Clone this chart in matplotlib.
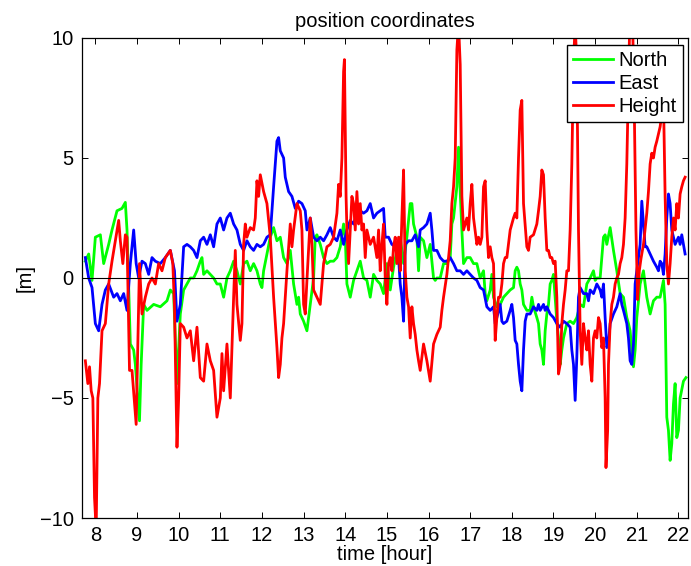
import matplotlib
matplotlib.use("Agg")
import matplotlib.pyplot as plt

plt.rcParams['font.family'] = ['Liberation Sans', 'DejaVu Sans']

title = "position coordinates"
xlabel = "time [hour]"
ylabel = "[m]"
series_names = ["North", "East", "Height"]
xticks = list(range(8, 23))
yticks = [-10, -5, 0, 5, 10]

north_t = [7.76, 7.84, 7.92, 8.00, 8.12, 8.20, 8.32, 8.40, 8.52, 8.64, 8.72, 8.76, 8.84, 8.92, 8.96, 9.06, 9.10, 9.16, 9.24, 9.40,
           9.56, 9.72, 9.80, 9.88, 9.96, 10.04, 10.12, 10.20, 10.28, 10.36, 10.44, 10.52, 10.56, 10.60, 10.68, 10.76, 10.84, 10.92, 11.00, 11.08,
           11.16, 11.24, 11.32, 11.40, 11.48, 11.56, 11.64, 11.72, 11.80, 11.88, 11.96, 12.00, 12.04, 12.12, 12.20, 12.28, 12.36, 12.44, 12.52, 12.60,
           12.68, 12.76, 12.84, 12.88, 12.92, 13.00, 13.08, 13.16, 13.24, 13.28, 13.32, 13.40, 13.48, 13.56, 13.64, 13.72, 13.80, 13.88, 13.96, 14.00,
           14.04, 14.12, 14.20, 14.28, 14.36, 14.44, 14.52, 14.60, 14.68, 14.76, 14.84, 14.92, 15.00, 15.08, 15.16, 15.24, 15.32, 15.40, 15.48, 15.56,
           15.60, 15.64, 15.72, 15.76, 15.80, 15.88, 15.96, 16.04, 16.12, 16.16, 16.20, 16.28, 16.36, 16.44, 16.52, 16.56, 16.60, 16.68, 16.72, 16.76,
           16.80, 16.84, 16.92, 17.00, 17.08, 17.16, 17.24, 17.32, 17.36, 17.40, 17.48, 17.52, 17.56, 17.64, 17.72, 17.80, 17.88, 17.96, 18.04, 18.08,
           18.12, 18.16, 18.20, 18.24, 18.28, 18.36, 18.44, 18.48, 18.52, 18.60, 18.64, 18.68, 18.72, 18.76, 18.80, 18.84, 18.88, 18.92, 18.96, 19.00,
           19.04, 19.08, 19.12, 19.16, 19.20, 19.24, 19.32, 19.40, 19.48, 19.56, 19.64, 19.72, 19.80, 19.88, 19.96, 20.00, 20.04, 20.12, 20.20, 20.24,
           20.28, 20.36, 20.44, 20.52, 20.60, 20.68, 20.76, 20.80, 20.84, 20.88, 20.92, 20.96, 21.00, 21.08, 21.16, 21.24, 21.32, 21.40, 21.48, 21.56,
           21.64, 21.68, 21.72, 21.76, 21.80, 21.84, 21.88, 21.92, 21.96, 22.00, 22.04, 22.12, 22.18]
north_m = [0.7, 1.0, -0.1, 1.7, 1.8, 0.6, 1.4, 2.0, 2.8, 2.9, 3.15, 2.0, -2.75, -3.0, -3.6, -5.95, -3.6, -1.1, -1.35, -1.1,
           -1.2, -0.95, -0.5, -0.65, -4.4, -1.5, -0.5, -0.25, 0.0, 0.0, 0.3, 0.7, 0.85, 0.15, 0.3, 0.15, 0.0, -0.25, -0.25, -0.8,
           0.0, 0.3, 0.7, 0.3, -0.25, 0.6, 0.7, 0.3, 0.6, 0.3, -0.25, -0.4, 0.3, 1.0, 1.7, 2.1, 1.55, 1.7, 0.85, 0.6,
           1.15, -0.25, -1.1, -0.8, -1.5, -1.8, -2.2, -1.1, 0.0, 1.7, 1.8, 1.4, 0.85, 0.6, 0.7, 0.7, 0.85, 1.3, 2.25, 1.7,
           -0.25, -0.8, -0.1, 0.3, 0.7, 0.0, -0.1, -0.8, 0.15, -0.1, -0.25, -0.65, 0.6, -0.5, 0.45, 1.15, 1.7, 0.6, 1.7, 3.1,
           3.1, 2.25, 1.7, 0.3, 1.7, 1.55, 0.85, 1.4, 0.0, -0.1, 0.0, 0.0, 0.6, 0.6, 0.85, 2.25, 2.5, 3.8, 5.45, 3.6,
           2.0, 0.6, 0.85, 0.85, 0.6, 0.6, 0.0, 0.3, -0.65, -0.95, -0.5, 0.15, -0.8, -1.2, -1.1, -0.8, -0.65, -0.5, -0.4, 0.3,
           0.45, 0.3, -0.25, -0.5, -1.1, -1.35, -1.35, -0.8, -1.2, -1.65, -1.9, -2.75, -3.0, -3.6, -2.2, -1.5, -1.1, -0.25, -0.1, 0.15,
           -0.8, -1.8, -2.5, -3.6, -3.0, -2.5, -1.9, -1.8, -1.9, -1.65, -1.1, -1.2, -0.25, 0.0, 0.3, -0.1, 0.0, 0.0, 1.7, 1.8,
           1.4, 2.1, 1.15, 0.3, -0.65, -0.8, -1.65, -1.9, -2.2, -3.0, -3.7, -3.0, -1.65, -0.25, 0.3, -0.8, -1.5, -0.95, -0.8, -0.8,
           -0.1, -1.1, -5.8, -6.35, -7.6, -6.9, -5.25, -4.4, -6.65, -6.35, -5.0, -4.3, -4.15]

east_t = [7.76, 7.84, 7.92, 8.00, 8.08, 8.16, 8.24, 8.32, 8.44, 8.52, 8.60, 8.68, 8.76, 8.84, 8.92, 8.98, 9.04, 9.12, 9.20, 9.28,
          9.36, 9.44, 9.56, 9.68, 9.80, 9.90, 9.96, 10.04, 10.12, 10.20, 10.28, 10.36, 10.44, 10.52, 10.60, 10.68, 10.76, 10.84, 10.92, 11.00,
          11.08, 11.16, 11.24, 11.32, 11.40, 11.48, 11.56, 11.64, 11.72, 11.80, 11.88, 11.96, 12.04, 12.12, 12.20, 12.28, 12.36, 12.40, 12.44, 12.52,
          12.56, 12.64, 12.72, 12.80, 12.88, 12.96, 13.04, 13.08, 13.16, 13.24, 13.32, 13.40, 13.48, 13.56, 13.64, 13.72, 13.80, 13.88, 13.96, 14.04,
          14.12, 14.20, 14.28, 14.36, 14.44, 14.52, 14.60, 14.68, 14.76, 14.84, 14.92, 14.96, 15.04, 15.12, 15.20, 15.28, 15.32, 15.36, 15.40, 15.44,
          15.52, 15.60, 15.68, 15.76, 15.80, 15.88, 15.96, 16.04, 16.08, 16.12, 16.20, 16.28, 16.36, 16.44, 16.52, 16.60, 16.68, 16.76, 16.84, 16.92,
          17.00, 17.08, 17.16, 17.24, 17.32, 17.40, 17.48, 17.56, 17.60, 17.64, 17.72, 17.76, 17.80, 17.88, 17.96, 18.00, 18.04, 18.08, 18.12, 18.16,
          18.20, 18.24, 18.28, 18.32, 18.36, 18.44, 18.52, 18.60, 18.64, 18.68, 18.76, 18.80, 18.84, 18.92, 19.00, 19.08, 19.16, 19.24, 19.32, 19.40,
          19.44, 19.48, 19.52, 19.56, 19.60, 19.64, 19.72, 19.80, 19.84, 19.88, 19.96, 20.04, 20.12, 20.16, 20.20, 20.24, 20.28, 20.32, 20.36, 20.44,
          20.52, 20.60, 20.64, 20.68, 20.76, 20.80, 20.84, 20.88, 20.92, 20.96, 21.00, 21.08, 21.12, 21.16, 21.20, 21.24, 21.32, 21.40, 21.48, 21.52,
          21.56, 21.60, 21.64, 21.68, 21.72, 21.76, 21.80, 21.84, 21.88, 21.92, 21.96, 22.00, 22.04, 22.08, 22.12, 22.16]
east_m = [0.85, 0.0, -0.4, -1.9, -2.2, -1.1, -0.5, -0.25, -0.8, -0.65, -0.95, -0.65, -1.35, 0.6, 2.0, 0.6, 0.0, 0.7, 0.6, 0.15,
          0.85, 0.7, 0.6, 0.85, 1.15, 0.3, -1.8, -1.1, 1.3, 1.4, 1.3, 1.15, 0.85, 1.55, 1.7, 1.4, 1.8, 1.3, 2.25, 2.5,
          2.0, 2.5, 2.7, 2.25, 2.0, 1.4, 1.15, 1.55, 1.3, 1.15, 1.4, 1.3, 1.4, 1.7, 1.8, 3.8, 5.7, 5.85, 5.3, 5.0,
          4.2, 3.6, 3.4, 2.9, 3.2, 3.1, 2.8, 2.0, 2.5, 1.7, 1.55, 1.7, 1.55, 1.8, 2.1, 1.7, 1.55, 2.0, 1.4, 2.0,
          2.4, 2.25, 2.7, 2.8, 2.7, 2.8, 3.1, 2.5, 2.7, 2.8, 2.9, 1.7, 1.7, 1.4, 1.3, 0.85, -0.25, -0.8, -1.8, 1.4,
          1.55, 1.55, 1.8, 1.3, 2.0, 2.1, 2.25, 2.7, 2.0, 1.15, 1.15, 0.85, 0.7, 0.7, 0.85, 0.6, 0.3, 0.3, 0.15, 0.3,
          0.15, 0.0, -0.1, -0.4, -0.5, -1.2, -1.35, -1.2, -1.9, -1.65, -1.1, -1.8, -1.9, -1.8, -1.35, -1.1, -1.65, -2.6, -2.75, -3.6,
          -4.3, -4.7, -3.0, -1.8, -1.5, -1.5, -1.2, -1.35, -1.1, -1.35, -1.1, -1.35, -1.2, -1.5, -1.65, -1.9, -2.05, -1.8, -1.9, -2.05,
          -3.0, -3.6, -5.1, -3.3, -0.8, -0.4, -0.65, -0.65, -0.95, -0.5, -0.65, -0.25, -0.5, -0.8, -0.25, -1.65, -2.9, -2.75, -1.9, -1.5,
          -1.2, -0.65, -1.1, -1.35, -1.9, -2.5, -3.45, -3.6, -2.75, -0.25, 0.3, 1.4, 3.2, 2.25, 1.3, 1.3, 1.0, 0.7, 0.45, 0.3,
          0.7, 0.6, 0.15, 1.0, 2.5, 3.5, 3.1, 2.0, 1.7, 1.4, 1.55, 1.7, 1.4, 1.8, 1.4, 1.0]

height_t = [7.76, 7.82, 7.86, 7.90, 7.94, 7.98, 8.02, 8.06, 8.10, 8.16, 8.24, 8.32, 8.40, 8.48, 8.56, 8.60, 8.66, 8.72, 8.76, 8.82,
            8.88, 8.98, 9.02, 9.06, 9.12, 9.20, 9.28, 9.36, 9.44, 9.52, 9.60, 9.68, 9.80, 9.86, 9.90, 9.96, 10.00, 10.04, 10.12, 10.20,
            10.28, 10.36, 10.44, 10.52, 10.60, 10.68, 10.76, 10.84, 10.92, 11.00, 11.04, 11.08, 11.16, 11.24, 11.28, 11.32, 11.36, 11.40, 11.48, 11.52,
            11.56, 11.60, 11.64, 11.72, 11.80, 11.84, 11.88, 11.92, 11.96, 12.04, 12.12, 12.20, 12.28, 12.36, 12.40, 12.44, 12.48, 12.52, 12.60, 12.68,
            12.72, 12.76, 12.84, 12.92, 12.96, 13.00, 13.04, 13.08, 13.16, 13.20, 13.24, 13.32, 13.40, 13.48, 13.56, 13.64, 13.72, 13.80, 13.84, 13.88,
            13.92, 13.96, 13.98, 14.02, 14.04, 14.08, 14.12, 14.16, 14.20, 14.24, 14.28, 14.32, 14.36, 14.40, 14.44, 14.48, 14.52, 14.60, 14.68, 14.76,
            14.80, 14.84, 14.88, 14.92, 14.96, 15.00, 15.04, 15.08, 15.12, 15.16, 15.20, 15.24, 15.28, 15.32, 15.36, 15.40, 15.44, 15.48, 15.52, 15.56,
            15.60, 15.64, 15.68, 15.72, 15.76, 15.80, 15.88, 15.96, 16.04, 16.12, 16.20, 16.24, 16.28, 16.32, 16.36, 16.44, 16.52, 16.56, 16.60, 16.64,
            16.68, 16.72, 16.76, 16.80, 16.84, 16.88, 16.92, 16.96, 17.00, 17.04, 17.08, 17.16, 17.20, 17.24, 17.28, 17.32, 17.36, 17.40, 17.44, 17.48,
            17.52, 17.56, 17.60, 17.64, 17.68, 17.72, 17.76, 17.80, 17.84, 17.88, 17.96, 18.00, 18.04, 18.08, 18.12, 18.16, 18.20, 18.24, 18.28, 18.36,
            18.40, 18.44, 18.52, 18.60, 18.64, 18.68, 18.72, 18.76, 18.80, 18.84, 18.88, 18.92, 18.96, 19.00, 19.04, 19.08, 19.12, 19.16, 19.20, 19.24,
            19.28, 19.32, 19.36, 19.40, 19.44, 19.48, 19.52, 19.56, 19.60, 19.64, 19.68, 19.72, 19.76, 19.80, 19.84, 19.88, 19.92, 19.96, 20.00, 20.04,
            20.08, 20.12, 20.16, 20.20, 20.24, 20.26, 20.30, 20.32, 20.36, 20.40, 20.44, 20.48, 20.52, 20.56, 20.60, 20.64, 20.68, 20.72, 20.76, 20.80,
            20.83, 20.90, 20.94, 20.98, 21.02, 21.06, 21.10, 21.16, 21.24, 21.28, 21.32, 21.36, 21.40, 21.44, 21.48, 21.52, 21.56, 21.60, 21.64, 21.68,
            21.72, 21.76, 21.80, 21.84, 21.88, 21.92, 21.96, 22.00, 22.04, 22.08, 22.12, 22.16]
height_m = [-3.45, -4.4, -3.7, -4.7, -5.0, -9.15, -10.5, -5.0, -4.4, -2.2, -1.9, -0.25, 0.7, 1.55, 2.4, 1.55, 0.6, 1.8, 1.7, -3.85,
            -3.85, -6.1, -2.75, 0.6, -1.5, -0.8, -0.25, 0.0, -0.25, 0.6, 0.3, 0.85, 1.15, 0.6, -1.2, -7.05, -5.0, -1.9, -2.05, -2.5,
            -2.2, -3.45, -2.05, -4.15, -4.3, -2.75, -3.45, -3.85, -5.8, -5.0, -3.15, -4.7, -2.75, -5.0, -2.9, -0.8, 1.15, -1.1, -2.6, -1.9,
            1.4, 2.25, 1.7, 2.1, 2.0, 2.5, 4.05, 3.4, 4.3, 3.6, 3.1, 1.7, -0.8, -2.9, -4.15, -3.6, -2.5, -1.9, 0.3, 2.25,
            1.3, 2.0, 3.1, 2.8, 2.0, -1.1, -1.5, -0.1, 2.5, 1.4, -0.5, -0.8, -1.1, 0.6, 1.3, 1.4, 1.7, 2.7, 3.9, 3.4,
            5.0, 8.6, 9.1, 3.4, 2.0, 0.6, 2.0, 3.4, 3.1, 2.0, 3.6, 2.25, 3.1, 2.0, 2.25, 0.85, 2.0, 1.4, 1.7, 0.85,
            2.0, 0.3, 1.4, 2.25, 0.0, -1.1, 0.6, 0.85, 0.3, 1.3, 1.7, 0.6, 1.7, 0.3, 2.5, 4.5, 0.3, -0.8, -1.2, -2.5,
            -1.2, -1.9, -2.35, -3.0, -3.45, -3.85, -2.75, -3.45, -4.3, -2.75, -2.35, -2.2, -2.05, -1.35, -0.8, 0.15, 1.55, 3.1, 3.8, 5.0,
            9.5, 10.6, 8.9, 3.4, 2.0, 2.25, 2.5, 2.0, 3.1, 3.9, 2.5, 1.4, 1.7, 1.4, 1.7, 3.8, 4.05, 2.0, 0.85, 1.3,
            0.85, 0.6, -2.6, -1.65, -0.8, -0.8, -0.25, 0.6, 0.85, 0.85, 2.0, 2.25, 2.5, 2.7, 2.5, 5.0, 7.0, 7.4, 3.1, 1.3,
            1.15, 1.7, 1.8, 2.25, 2.8, 3.4, 4.5, 4.3, 2.5, 1.15, 1.15, 0.85, 0.85, 0.6, 0.7, -0.8, -4.0, -3.6, -1.9, -1.1,
            -0.5, 0.3, 0.3, 2.0, 4.75, 8.9, 10.6, 8.9, 2.0, -2.2, -3.6, -1.9, -2.5, -3.0, -2.2, -3.6, -4.3, -2.5, -2.2, -2.5,
            -1.65, -1.9, -2.9, -2.5, -5.0, -7.9, -6.35, -3.6, -1.9, -1.1, -0.8, -0.25, 0.0, 0.15, 0.6, 0.85, 1.4, 2.5, 4.75, 8.0,
            10.6, 10.6, 7.0, 2.0, -0.9, 0.3, 0.8, 1.4, 2.7, 3.6, 4.75, 5.2, 5.0, 5.45, 5.7, 6.0, 6.3, 6.85, 7.5, 3.4,
            0.6, -0.25, 0.6, 1.7, 2.5, 2.0, 3.1, 2.5, 3.5, 3.8, 4.05, 4.2]

colors = ["#00ff00", "#0000ff", "#ff0000"]

fig = plt.figure(figsize=(6.91, 5.66), dpi=100)
ax = fig.add_axes([0.1187, 0.0848, 0.8770, 0.8481])

for t, m, c, name in zip([north_t, east_t, height_t], [north_m, east_m, height_m], colors, series_names):
    ax.plot(t, m, color=c, lw=2.0, label=name, solid_joinstyle='round')

ax.axhline(0, color='black', lw=0.8, zorder=5)

ax.set_xlim(7.68, 22.23)
ax.set_ylim(-10, 10)
ax.set_xticks(xticks)
ax.set_yticks(yticks)
ax.tick_params(direction='in', top=True, right=True, length=4, width=0.7, labelsize=14.5, pad=6)
for s in ax.spines.values():
    s.set_linewidth(0.9)

ax.set_title(title, fontsize=14.5, pad=8)
ax.set_xlabel(xlabel, fontsize=14.5, labelpad=-0.5)
ax.set_ylabel(ylabel, fontsize=14.5, labelpad=4)

leg = ax.legend(loc='upper right', bbox_to_anchor=(0.9917, 0.9854), borderaxespad=0,
                fontsize=14.5, handlelength=1.95, handletextpad=0.3, labelspacing=0.2,
                borderpad=0.3, fancybox=False, framealpha=1, edgecolor='black')
leg.get_frame().set_linewidth(1.0)

fig.savefig("out.png", dpi=100)
